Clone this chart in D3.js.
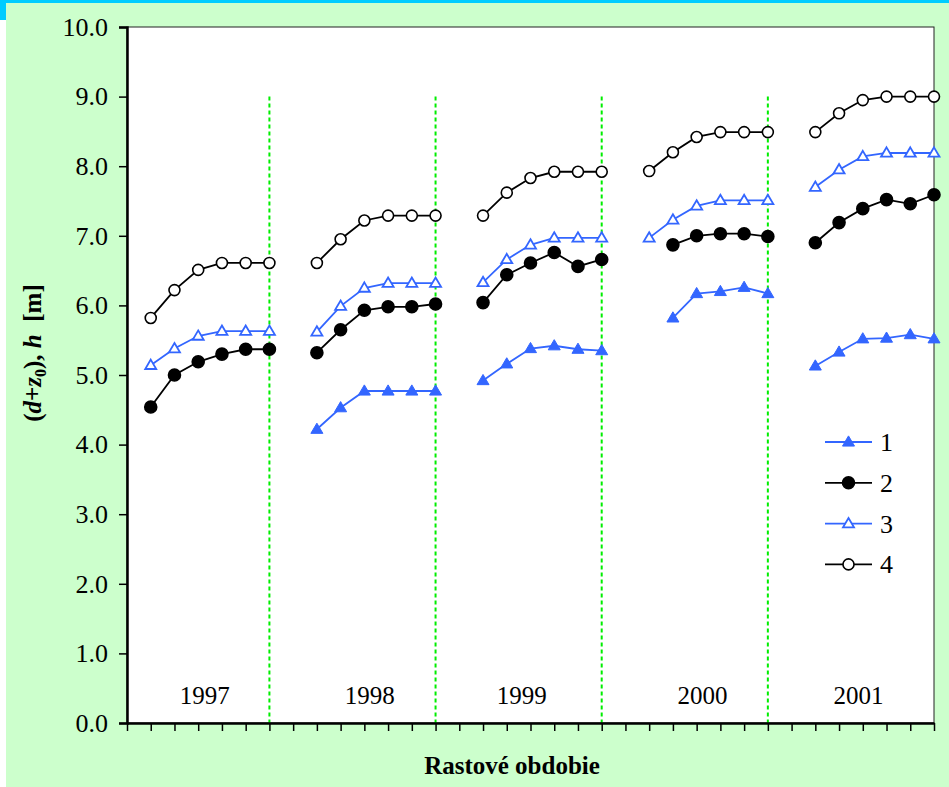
<!DOCTYPE html>
<html>
<head>
<meta charset="utf-8">
<script src="https://cdn.jsdelivr.net/npm/d3@7"></script>
<style>
  body { margin: 0; background: #fff; }
  svg text { font-family: "Liberation Serif", "Times New Roman", serif !important; }
</style>
</head>
<body>
<div id="chart"></div>
<script>
// years and per-year values (6 measurements each, null = missing)
const years = ["1997", "1998", "1999", "2000", "2001"];
const seriesNames = ["1", "2", "3", "4"];

const series1 = [
  [null, null, null, null, null, null],
  [4.22, 4.53, 4.77, 4.77, 4.77, 4.77],
  [4.92, 5.16, 5.38, 5.42, 5.37, 5.35],
  [null, 5.82, 6.17, 6.20, 6.26, 6.17],
  [5.13, 5.33, 5.52, 5.53, 5.58, 5.52]
];
const series2 = [
  [4.54, 5.00, 5.19, 5.30, 5.37, 5.37],
  [5.32, 5.65, 5.93, 5.98, 5.98, 6.02],
  [6.04, 6.44, 6.61, 6.76, 6.56, 6.66],
  [null, 6.87, 7.00, 7.03, 7.03, 6.99],
  [6.90, 7.19, 7.39, 7.52, 7.46, 7.59]
];
const series3 = [
  [5.14, 5.38, 5.56, 5.63, 5.63, 5.63],
  [5.62, 5.99, 6.25, 6.32, 6.32, 6.32],
  [6.33, 6.66, 6.87, 6.97, 6.97, 6.97],
  [6.97, 7.23, 7.43, 7.51, 7.51, 7.51],
  [7.70, 7.95, 8.14, 8.19, 8.19, 8.19]
];
const series4 = [
  [5.82, 6.22, 6.51, 6.61, 6.61, 6.61],
  [6.61, 6.95, 7.22, 7.29, 7.29, 7.29],
  [7.29, 7.62, 7.83, 7.92, 7.92, 7.92],
  [7.93, 8.20, 8.42, 8.49, 8.49, 8.49],
  [8.49, 8.76, 8.95, 9.00, 9.00, 9.00]
];
const yTicks = [0, 1, 2, 3, 4, 5, 6, 7, 8, 9, 10];

const W = 949, H = 787;
const margin = {top: 27, right: 15, bottom: 64, left: 127};
const width = W - margin.left - margin.right,
      height = H - margin.top - margin.bottom;

const svg = d3.select("#chart").append("svg")
  .attr("width", W).attr("height", H);

// frame decoration
svg.append("rect").attr("x", 0).attr("y", 0).attr("width", W).attr("height", H).attr("fill", "#fff");
svg.append("rect").attr("x", 6).attr("y", 3).attr("width", W - 6).attr("height", H - 3).attr("fill", "#ccffcc");
svg.append("rect").attr("x", 0).attr("y", 0).attr("width", W).attr("height", 3).attr("fill", "#00ccff");
svg.append("rect").attr("x", 0).attr("y", 0).attr("width", 6).attr("height", 20).attr("fill", "#00ccff");

const g = svg.append("g").attr("transform", `translate(${margin.left},${margin.top})`);

const perYear = 7; // 6 points + one empty slot
const x = d3.scaleLinear().domain([0, years.length * perYear - 1]).range([0, width]);
const y = d3.scaleLinear().domain([0, 10]).range([height, 0]);

g.append("rect").attr("width", width).attr("height", height)
  .attr("fill", "#fff").attr("stroke", "#222").attr("stroke-width", 1);

// green separators between years
years.slice(0, -1).forEach((yr, i) => {
  g.append("line")
    .attr("x1", x(i * perYear + 6)).attr("x2", x(i * perYear + 6))
    .attr("y1", y(9)).attr("y2", y(0))
    .attr("stroke", "#00ee00").attr("stroke-width", 2)
    .attr("stroke-dasharray", "4,3");
});

// axes
const yAxis = g.append("g")
  .call(d3.axisLeft(y).tickValues(yTicks).tickFormat(d3.format(".1f")).tickSize(8).tickPadding(11));
yAxis.attr("font-family", null).attr("font-size", null);
yAxis.select(".domain").attr("stroke-width", 2.5);
yAxis.selectAll(".tick line").attr("stroke-width", 1.5);
yAxis.selectAll("text").style("font-size", "26px").attr("fill", "#000");

const xAxis = g.append("g").attr("transform", `translate(0,${height})`)
  .call(d3.axisBottom(x).tickValues(d3.range(0, years.length * perYear)).tickFormat("").tickSize(8).tickSizeOuter(0));
xAxis.select(".domain").attr("stroke-width", 2.5);
xAxis.selectAll(".tick line").attr("stroke-width", 1.5);

// year labels
const yearLabelPos = [3.28, 10.23, 16.63, 24.25, 30.82];
years.forEach((yr, i) => {
  g.append("text")
    .attr("x", x(yearLabelPos[i])).attr("y", y(0.28))
    .attr("text-anchor", "middle").attr("font-size", 25)
    .text(yr);
});

// series
const blue = "#3366ff";
const styles = [
  {data: series1, color: blue, shape: "triangle", filled: true},
  {data: series2, color: "#000", shape: "circle", filled: true},
  {data: series3, color: blue, shape: "triangle", filled: false},
  {data: series4, color: "#000", shape: "circle", filled: false}
];

const line = d3.line()
  .defined(d => d.v !== null)
  .x(d => x(d.k)).y(d => y(d.v));

function marker(sel, s) {
  if (s.shape === "circle") {
    sel.append("circle").attr("r", s.filled ? 6 : 5.5)
      .attr("fill", s.filled ? s.color : "#fff")
      .attr("stroke", s.color).attr("stroke-width", 1.6);
  } else {
    const sz = s.filled ? 12 : 11, h = sz * 0.85;
    sel.append("path")
      .attr("d", `M0,${-h * 0.6}L${sz / 2},${h * 0.4}L${-sz / 2},${h * 0.4}Z`)
      .attr("fill", s.filled ? s.color : "#fff")
      .attr("stroke", s.color).attr("stroke-width", s.filled ? 1 : 1.8);
  }
}

styles.forEach(s => {
  s.data.forEach((vals, yi) => {
    const pts = vals.map((v, i) => ({k: yi * perYear + i + 1, v: v}));
    g.append("path").datum(pts)
      .attr("fill", "none").attr("stroke", s.color).attr("stroke-width", 1.8)
      .attr("d", line);
    pts.filter(d => d.v !== null).forEach(d => {
      const m = g.append("g").attr("transform", `translate(${x(d.k)},${y(d.v)})`);
      marker(m, s);
    });
  });
});

// legend
const legend = svg.append("g").attr("transform", "translate(825,442)");
styles.forEach((s, i) => {
  const row = legend.append("g").attr("transform", `translate(0,${i * 40.8})`);
  row.append("line").attr("x1", 0).attr("x2", 47).attr("y1", 0).attr("y2", 0)
    .attr("stroke", s.color).attr("stroke-width", 1.8);
  const m = row.append("g").attr("transform", "translate(23.5,0)");
  marker(m, s);
  row.append("text").attr("x", 55).attr("y", 9).attr("font-size", 26).text(seriesNames[i]);
});

// axis titles
svg.append("text")
  .attr("x", 512).attr("y", 774)
  .attr("text-anchor", "middle").attr("font-size", 25).attr("font-weight", "bold")
  .text("Rastové obdobie");

const yt = svg.append("text")
  .attr("transform", "translate(41,353) rotate(-90)")
  .attr("text-anchor", "middle").attr("font-size", 25).attr("font-weight", "bold");
yt.append("tspan").text("(");
yt.append("tspan").attr("font-style", "italic").text("d");
yt.append("tspan").text("+");
yt.append("tspan").attr("font-style", "italic").text("z");
yt.append("tspan").attr("font-size", 16).attr("dy", 5).text("0");
yt.append("tspan").attr("dy", -5).text("), ");
yt.append("tspan").attr("font-style", "italic").text("h");
yt.append("tspan").text("\u00a0 [m]");
</script>
</body>
</html>
